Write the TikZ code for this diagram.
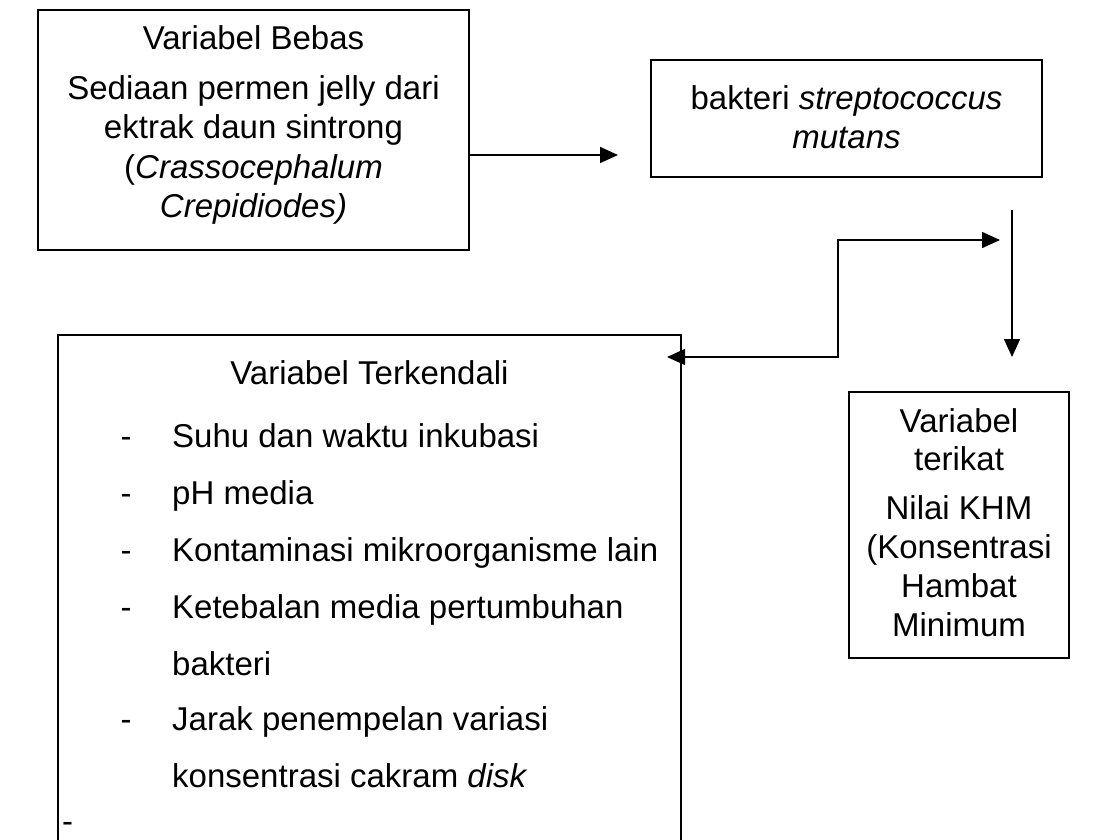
\documentclass[tikz,border=0pt]{standalone}
\usepackage{fontspec}
\setmainfont{Liberation Sans}
\usetikzlibrary{arrows.meta}
\usetikzlibrary{positioning}
\tikzset{kotak/.style={draw=black, line width=1.5pt, inner sep=0pt}}
\tikzset{teks/.style={anchor=base, inner sep=0pt, font=\fontsize{33}{39}\selectfont}}
\tikzset{panah/.style={line width=1.5pt, -{Triangle[length=18pt,width=16pt]}}}
\tikzset{duapanah/.style={line width=1.5pt, {Triangle[length=18pt,width=16pt]}-{Triangle[length=18pt,width=16pt]}}}

\begin{document}
\begin{tikzpicture}[x=1pt,y=-1pt]
  \clip (0,0) rectangle (1097,840);
  % kotak
  \node[kotak, minimum width=431pt, minimum height=240pt] (bebas) at (253.5,130) {};
  \node[kotak, minimum width=391pt, minimum height=117pt] (bakteri) at (846.5,118.5) {};
  \node[kotak, minimum width=220pt, minimum height=266pt] (terikat) at (959,525) {};
  \node[kotak, minimum width=623pt, minimum height=525pt] (terkendali) at (369.5,597.5) {};
  % variabel bebas
  \node[teks] (bebas-0) at (253.5,50) {Variabel Bebas};
  \foreach \i/\y/\t in {1/100/{Sediaan permen jelly dari},
                        2/139/{ektrak daun sintrong},
                        3/178/{(\textit{Crassocephalum}},
                        4/217/{\textit{Crepidiodes)}}}
    \node[teks] (bebas-\i) at (253.5,\y) {\t};
  % bakteri
  \node[teks] (bakteri-1) at (846.5,110) {bakteri \textit{streptococcus}};
  \node[teks] (bakteri-2) at (846.5,149) {\textit{mutans}};
  % variabel terikat
  \foreach \i/\y/\t in {1/432/Variabel, 2/470/terikat, 3/519/Nilai KHM,
                        4/558/(Konsentrasi, 5/597/Hambat, 6/636/Minimum}
    \node[teks] (terikat-\i) at (959,\y) {\t};
  % variabel terkendali
  \node[teks] (terkendali-0) at (369.5,384) {Variabel Terkendali};
  \foreach \i/\y in {1/447,2/504,3/561,4/618,5/730}
    \node[teks] (strip-\i) at (126,\y) {-};
  \foreach \i/\y/\t in {1/447/{Suhu dan waktu inkubasi},
                        2/504/{pH media},
                        3/561/{Kontaminasi mikroorganisme lain},
                        4/618/{Ketebalan media pertumbuhan},
                        5/675/{bakteri},
                        6/730/{Jarak penempelan variasi},
                        7/787/{konsentrasi cakram \textit{disk}}}
    \node[teks, anchor=base west] (terkendali-\i) at (172,\y) {\t};
  \node[teks, anchor=base west] (strip-6) at (62,832) {-};
  % panah
  \coordinate (ujung1) at (618,155);
  \draw[panah] (bebas.east |- ujung1) -- (ujung1);
  \coordinate (atas) at (1012,210);
  \coordinate (bawah) at (1012,357);
  \draw[panah] (atas) -- (bawah);
  \coordinate (kanan) at (1000,240);
  \coordinate (belok) at (838,357);
  \coordinate (kiri) at (667,357);
  \draw[duapanah] (kiri) -- (belok) |- (kanan);
\end{tikzpicture}
\end{document}
